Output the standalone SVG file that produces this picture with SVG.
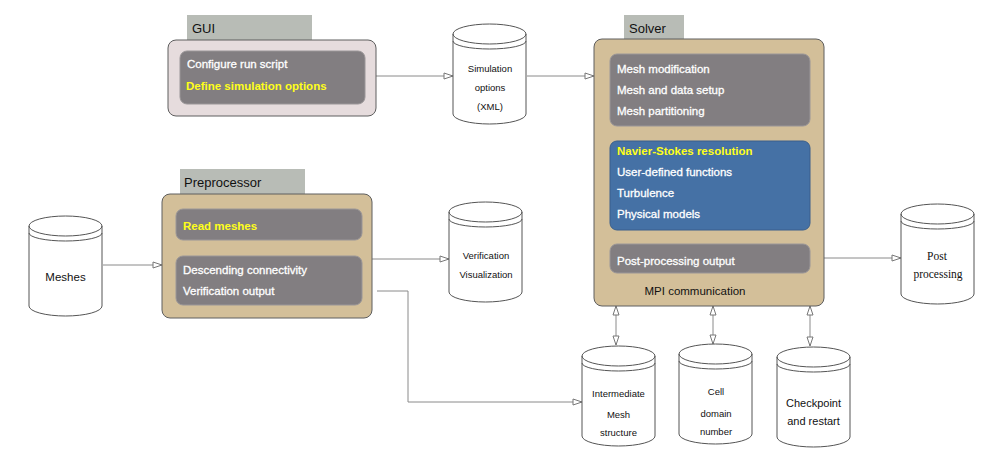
<svg xmlns="http://www.w3.org/2000/svg" width="1008" height="453" viewBox="0 0 1008 453">
<defs>
<style>
.tab{fill:#b8bcb6;}
.tabt{font-family:"Liberation Sans",Arial,sans-serif;font-size:13px;fill:#111;}
.outer{stroke:#5e5e5e;stroke-width:1;}
.inner{fill:#827e81;stroke:#9a9698;stroke-width:1;}
.blue{fill:#4571a5;stroke:#3a5f8c;stroke-width:1;}
.w{font-family:"Liberation Sans",Arial,sans-serif;font-size:11.5px;fill:#ffffff;stroke:#ffffff;stroke-width:0.3;}
.y{font-family:"Liberation Sans",Arial,sans-serif;font-size:11.5px;font-weight:bold;fill:#ffff1a;}
.cyl{fill:#ffffff;stroke:#555;stroke-width:1;}
.cyll{fill:none;stroke:#555;stroke-width:1;}
.ct{font-family:"Liberation Sans",Arial,sans-serif;font-size:9.5px;fill:#111;text-anchor:middle;}
.ctl{font-family:"Liberation Sans",Arial,sans-serif;font-size:11.5px;fill:#111;text-anchor:middle;}
.cts{font-family:"Liberation Serif","Times New Roman",serif;font-size:11.5px;fill:#111;text-anchor:middle;}
.edge{fill:none;stroke:#8a8a8a;stroke-width:1;}
</style>
<marker id="arr" markerUnits="userSpaceOnUse" markerWidth="12" markerHeight="10" refX="10" refY="5" orient="auto-start-reverse">
<path d="M1,2 L10,5 L1,8 Z" fill="#fff" stroke="#777" stroke-width="1"/>
</marker>
<g id="cylshape">
<path class="cyl" d="M0,10 A36.5,10 0 0 1 73,10 L73,90 A36.5,10 0 0 1 0,90 Z"/>
<path class="cyll" d="M0,10 A36.5,10 0 0 0 73,10"/>
<path class="cyll" d="M0,17 A36.5,8 0 0 0 73,17"/>
</g>
</defs>
<rect width="1008" height="453" fill="#ffffff"/>

<g id="connectors">
<line class="edge" x1="376" y1="76" x2="453" y2="76" marker-end="url(#arr)"/>
<line class="edge" x1="527" y1="76" x2="594" y2="76" marker-end="url(#arr)"/>
<line class="edge" x1="103" y1="265" x2="162" y2="265" marker-end="url(#arr)"/>
<line class="edge" x1="372" y1="259" x2="449" y2="259" marker-end="url(#arr)"/>
<polyline class="edge" points="377,291 408,291 408,402 582,402" marker-end="url(#arr)"/>
<line class="edge" x1="824" y1="258" x2="901" y2="258" marker-end="url(#arr)"/>
<line class="edge" x1="616" y1="306" x2="616" y2="345" marker-start="url(#arr)" marker-end="url(#arr)"/>
<line class="edge" x1="713" y1="306" x2="713" y2="344" marker-start="url(#arr)" marker-end="url(#arr)"/>
<line class="edge" x1="810" y1="306" x2="810" y2="346" marker-start="url(#arr)" marker-end="url(#arr)"/>
</g>

<g id="gui">
<rect class="tab" x="187" y="15" width="125" height="26"/>
<text class="tabt" x="192" y="33">GUI</text>
<rect class="outer" x="168" y="40" width="208" height="76" rx="8" fill="#e6dcdd"/>
<rect class="inner" x="180" y="51" width="185" height="53" rx="7"/>
<text class="w" x="187" y="68">Configure run script</text>
<text class="y" x="186" y="90">Define simulation options</text>
</g>

<g id="preprocessor">
<rect class="tab" x="180" y="169" width="125" height="26"/>
<text class="tabt" x="184" y="187">Preprocessor</text>
<rect class="outer" x="162" y="194" width="210" height="124" rx="8" fill="#d3bf99"/>
<rect class="inner" x="176" y="209" width="186" height="31" rx="7"/>
<text class="y" x="183" y="230">Read meshes</text>
<rect class="inner" x="176" y="256" width="186" height="49" rx="7"/>
<text class="w" x="183" y="274">Descending connectivity</text>
<text class="w" x="183" y="295">Verification output</text>
</g>

<g id="solver">
<rect class="tab" x="624" y="15" width="60" height="26"/>
<text class="tabt" x="629" y="33">Solver</text>
<rect class="outer" x="594" y="39" width="230" height="267" rx="8" fill="#d3bf99"/>
<rect class="inner" x="610" y="54" width="200" height="72" rx="7"/>
<text class="w" x="617" y="73">Mesh modification</text>
<text class="w" x="617" y="94">Mesh and data setup</text>
<text class="w" x="617" y="115">Mesh partitioning</text>
<rect class="blue" x="610" y="141" width="200" height="89" rx="7"/>
<text class="y" x="617" y="155">Navier-Stokes resolution</text>
<text class="w" x="617" y="176">User-defined functions</text>
<text class="w" x="617" y="197">Turbulence</text>
<text class="w" x="617" y="218">Physical models</text>
<rect class="inner" x="610" y="244" width="200" height="29" rx="7"/>
<text class="w" x="617" y="265">Post-processing output</text>
<text class="ctl" x="695" y="295">MPI communication</text>
</g>

<g id="simulation-options" transform="translate(453,24)">
<use href="#cylshape"/>
<text class="ct" x="37" y="47.5">Simulation</text>
<text class="ct" x="37" y="66.5">options</text>
<text class="ct" x="37" y="85.5">(XML)</text>
</g>

<g id="meshes" transform="translate(29,216)">
<use href="#cylshape"/>
<text class="ctl" x="36.5" y="65">Meshes</text>
</g>

<g id="verification" transform="translate(449,202)">
<use href="#cylshape"/>
<text class="ct" x="37" y="56.5">Verification</text>
<text class="ct" x="37" y="75.5">Visualization</text>
</g>

<g id="post-processing" transform="translate(901,204)">
<use href="#cylshape"/>
<text class="cts" x="36" y="56">Post</text>
<text class="cts" x="37" y="74">processing</text>
</g>

<g id="intermediate" transform="translate(582,346)">
<use href="#cylshape"/>
<text class="ct" x="36.5" y="50.5">Intermediate</text>
<text class="ct" x="36.5" y="71.5">Mesh</text>
<text class="ct" x="36.5" y="89.5">structure</text>
</g>

<g id="cell-domain" transform="translate(679,344)">
<use href="#cylshape"/>
<text class="ct" x="37" y="50.5">Cell</text>
<text class="ct" x="37" y="72.5">domain</text>
<text class="ct" x="37" y="90.5">number</text>
</g>

<g id="checkpoint" transform="translate(777,347)">
<use href="#cylshape"/>
<text class="ctl" x="36.5" y="60" style="font-size:11px">Checkpoint</text>
<text class="ctl" x="36.5" y="78" style="font-size:11px">and restart</text>
</g>
</svg>
